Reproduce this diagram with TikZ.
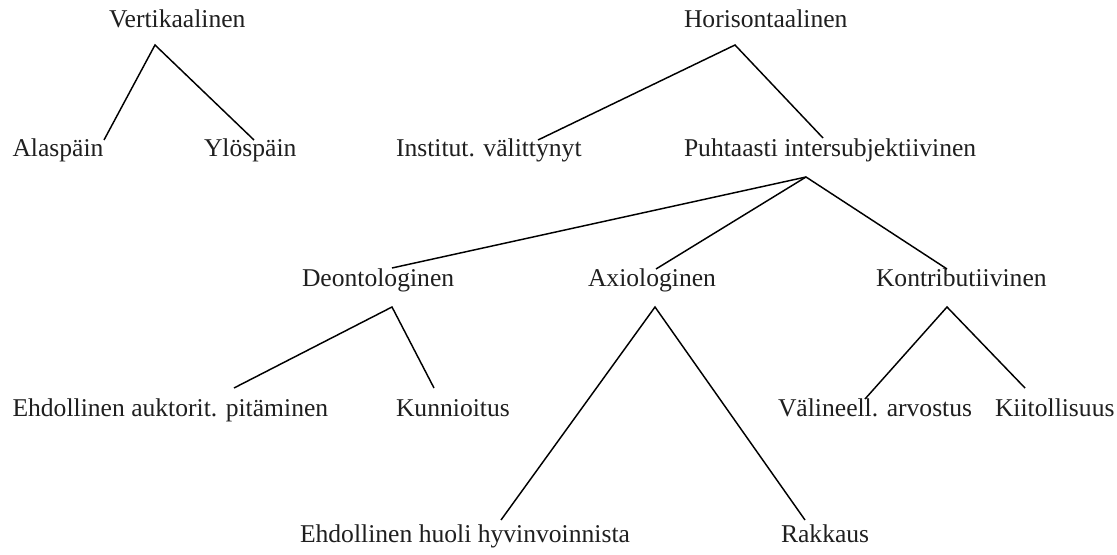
\documentclass[tikz,border=0pt]{standalone}
\usepackage{fontspec}
\setmainfont{Liberation Serif}
\begin{document}
\begin{tikzpicture}[x=0.75pt,y=-0.75pt,
  lbl/.style={anchor=base west,inner sep=0pt,outer sep=0pt,font=\fontsize{19.2}{21}\selectfont,text=black!88},
  edge/.style={draw=black,line width=1.1pt}]
\useasboundingbox[fill=white] (0,0) rectangle (1117,555);
% labels
\node[lbl] (vert) at (109,28) {Vertikaalinen};
\node[lbl] (hor) at (684,28) {Horisontaalinen};
\node[lbl] (ala) at (12.5,157) {Alaspäin};
\node[lbl] (ylo) at (204,157) {Ylöspäin};
\node[lbl] (inst) at (396,157) {Institut. välittynyt};
\node[lbl] (puh) at (684,157) {Puhtaasti intersubjektiivinen};
\node[lbl] (deo) at (302,287) {Deontologinen};
\node[lbl] (axi) at (588,287) {Axiologinen};
\node[lbl] (kon) at (876,287) {Kontributiivinen};
\node[lbl] (ehd) at (12.5,417) {Ehdollinen auktorit. pitäminen};
\node[lbl] (kun) at (396,417) {Kunnioitus};
\node[lbl] (val) at (778,417) {Välineell. arvostus};
\node[lbl] (kii) at (995,417) {Kiitollisuus};
\node[lbl] (huo) at (300,542) {Ehdollinen huoli hyvinvoinnista};
\node[lbl] (rak) at (781,542) {Rakkaus};
% connector points
\coordinate (vertP) at (155,45);
\coordinate (alaP) at (104,140);
\coordinate (yloP) at (254,140);
\coordinate (horP) at (735,45);
\coordinate (instP) at (538,140);
\coordinate (puhT) at (823,138);
\coordinate (puhP) at (806,177);
\coordinate (deoT) at (392,268);
\coordinate (axiT) at (656,269);
\coordinate (konT) at (947,269);
\coordinate (deoP) at (392,307);
\coordinate (ehdT) at (234,388);
\coordinate (kunT) at (434,388);
\coordinate (axiP) at (655,307);
\coordinate (huoT) at (501,520);
\coordinate (rakT) at (805,520);
\coordinate (konP) at (947,307);
\coordinate (valT) at (865,399);
\coordinate (kiiT) at (1025,388);
% connectors
\draw[edge] (alaP) -- (vertP) -- (yloP);
\draw[edge] (instP) -- (horP) -- (puhT);
\draw[edge] (deoT) -- (puhP) -- (konT);
\draw[edge] (puhP) -- (axiT);
\draw[edge] (ehdT) -- (deoP) -- (kunT);
\draw[edge] (huoT) -- (axiP) -- (rakT);
\draw[edge] (valT) -- (konP) -- (kiiT);
\end{tikzpicture}
\end{document}
